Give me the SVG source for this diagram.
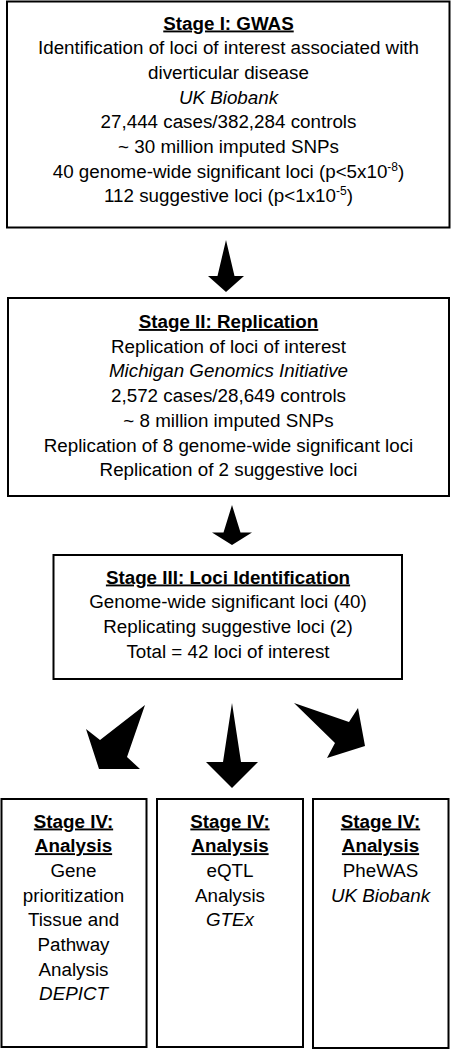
<svg xmlns="http://www.w3.org/2000/svg" width="452" height="1050" viewBox="0 0 452 1050">
<style>
.box{fill:#fff;stroke:#000;stroke-width:2}
.t{font-family:"Liberation Sans",Arial,sans-serif;font-size:18.8px;fill:#000;text-anchor:middle}
.h{font-weight:bold;text-decoration:underline}
.i{font-style:italic}
.arr{fill:#000;stroke:none}
</style>
<rect width="452" height="1050" fill="#fff"/>
<g id="stage1">
<rect class="box" x="7" y="1.5" width="442.5" height="226"/>
<text class="t h" x="228.5" y="29.5">Stage I: GWAS</text>
<text class="t" x="228.5" y="54.2">Identification of loci of interest associated with</text>
<text class="t" x="228.5" y="78.9">diverticular disease</text>
<text class="t i" x="228.5" y="103.6">UK Biobank</text>
<text class="t" x="228.5" y="128.3">27,444 cases/382,284 controls</text>
<text class="t" x="228.5" y="153">~ 30 million imputed SNPs</text>
<text class="t" x="228.5" y="177.7">40 genome-wide significant loci (p&lt;5x10<tspan dy="-7" font-size="12">-8</tspan><tspan dy="7">)</tspan></text>
<text class="t" x="228.5" y="202.4">112 suggestive loci (p&lt;1x10<tspan dy="-7" font-size="12">-5</tspan><tspan dy="7">)</tspan></text>
</g>
<g id="stage2">
<rect class="box" x="8" y="298" width="441" height="198"/>
<text class="t h" x="228.5" y="328">Stage II: Replication</text>
<text class="t" x="228.5" y="352.7">Replication of loci of interest</text>
<text class="t i" x="228.5" y="377.4">Michigan Genomics Initiative</text>
<text class="t" x="228.5" y="402.1">2,572 cases/28,649 controls</text>
<text class="t" x="228.5" y="426.8">~ 8 million imputed SNPs</text>
<text class="t" x="228.5" y="451.5">Replication of 8 genome-wide significant loci</text>
<text class="t" x="228.5" y="476.2">Replication of 2 suggestive loci</text>
</g>
<g id="stage3">
<rect class="box" x="53.5" y="555" width="348.5" height="124"/>
<text class="t h" x="228" y="583.5">Stage III: Loci Identification</text>
<text class="t" x="228" y="608.2">Genome-wide significant loci (40)</text>
<text class="t" x="228" y="632.9">Replicating suggestive loci (2)</text>
<text class="t" x="228" y="657.6">Total = 42 loci of interest</text>
</g>
<g id="stage4a">
<rect class="box" x="1.5" y="799" width="145" height="248"/>
<text class="t h" x="73.5" y="827.5">Stage IV:</text>
<text class="t h" x="73.5" y="852.2">Analysis</text>
<text class="t" x="73.5" y="876.9">Gene</text>
<text class="t" x="73.5" y="901.6">prioritization</text>
<text class="t" x="73.5" y="926.3">Tissue and</text>
<text class="t" x="73.5" y="951">Pathway</text>
<text class="t" x="73.5" y="975.7">Analysis</text>
<text class="t i" x="73.5" y="1000.4">DEPICT</text>
</g>
<g id="stage4b">
<rect class="box" x="157" y="799" width="146" height="248"/>
<text class="t h" x="230" y="827.5">Stage IV:</text>
<text class="t h" x="230" y="852.2">Analysis</text>
<text class="t" x="230" y="876.9">eQTL</text>
<text class="t" x="230" y="901.6">Analysis</text>
<text class="t i" x="230" y="926.3">GTEx</text>
</g>
<g id="stage4c">
<rect class="box" x="313" y="799" width="135.5" height="249"/>
<text class="t h" x="380.5" y="827.5">Stage IV:</text>
<text class="t h" x="380.5" y="852.2">Analysis</text>
<text class="t" x="380.5" y="876.9">PheWAS</text>
<text class="t i" x="380.5" y="901.6">UK Biobank</text>
</g>
<g id="connectors">
<polygon class="arr" points="226,240 234.5,276 244,276 226,292 208,276 217.5,276"/>
<polygon class="arr" points="232,505 240.5,532.5 252,532.5 232,545 212,532.5 223.5,532.5"/>
<polygon class="arr" points="232,703 241,762 258,762 232,788 206,762 223,762"/>
<polygon class="arr" points="145,705 100,740 86,729 99,769 140,769 127,757"/>
<polygon class="arr" points="294,703 349,722 358,708 365,746 327,758 335,743"/>
</g>
</svg>
